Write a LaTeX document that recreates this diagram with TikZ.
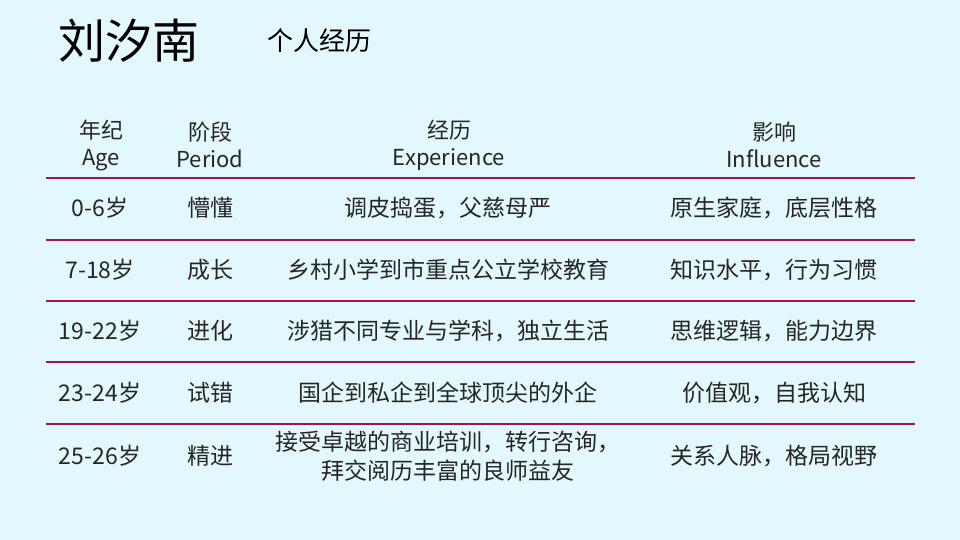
\documentclass[tikz,border=0pt]{standalone}
\usepackage{fontspec}
\setmainfont{Noto Sans CJK SC}
\definecolor{bg}{HTML}{E3F8FC}
\definecolor{ln}{HTML}{A0154F}
\begin{document}
\begin{tikzpicture}[x=1pt,y=-1pt,
  t/.style={font=\fontsize{23}{27}\selectfont,align=center,inner sep=0pt,text=black!85},
  rule/.style={draw=ln,line width=1.6pt}]
\fill[bg] (0,0) rectangle (960,540);
\useasboundingbox (0,0) rectangle (960,540);
\node[inner sep=0pt,anchor=west,font=\fontsize{47}{50}\selectfont] (title) at (58,41) {刘汐南};
\node[inner sep=0pt,anchor=west,font=\fontsize{26}{28}\selectfont] (sub) at (267,41) {个人经历};
\foreach \y/\n in {178/a,240/b,301/c,362/d,424/e}{\coordinate (l\n) at (46,\y); \coordinate (r\n) at (915,\y); \draw[rule] (l\n) -- (r\n);}
\node[t,font=\fontsize{22}{27}\selectfont] (h1) at (101,145) {年纪\\Age};
\node[t,font=\fontsize{22}{27}\selectfont] (h2) at (210,145) {阶段\\Period};
\node[t,font=\fontsize{22}{27}\selectfont] (h3) at (449,145) {经历\\Experience};
\node[t,font=\fontsize{22}{27}\selectfont] (h4) at (774,145) {影响\\Influence};
\node[t] (a1) at (100,208) {0-6岁};
\node[t] (a2) at (210,208) {懵懂};
\node[t] (a3) at (448,208) {调皮捣蛋，父慈母严};
\node[t] (a4) at (774,208) {原生家庭，底层性格};
\node[t] (b1) at (100,270) {7-18岁};
\node[t] (b2) at (210,270) {成长};
\node[t] (b3) at (448,270) {乡村小学到市重点公立学校教育};
\node[t] (b4) at (774,270) {知识水平，行为习惯};
\node[t] (c1) at (100,331) {19-22岁};
\node[t] (c2) at (210,331) {进化};
\node[t] (c3) at (448,331) {涉猎不同专业与学科，独立生活};
\node[t] (c4) at (774,331) {思维逻辑，能力边界};
\node[t] (d1) at (100,393) {23-24岁};
\node[t] (d2) at (210,393) {试错};
\node[t] (d3) at (448,393) {国企到私企到全球顶尖的外企};
\node[t] (d4) at (774,393) {价值观，自我认知};
\node[t] (e1) at (100,456) {25-26岁};
\node[t] (e2) at (210,456) {精进};
\node[t,font=\fontsize{23}{29}\selectfont] (e3) at (448,456) {接受卓越的商业培训，转行咨询，\\拜交阅历丰富的良师益友};
\node[t] (e4) at (774,456) {关系人脉，格局视野};
\end{tikzpicture}
\end{document}
